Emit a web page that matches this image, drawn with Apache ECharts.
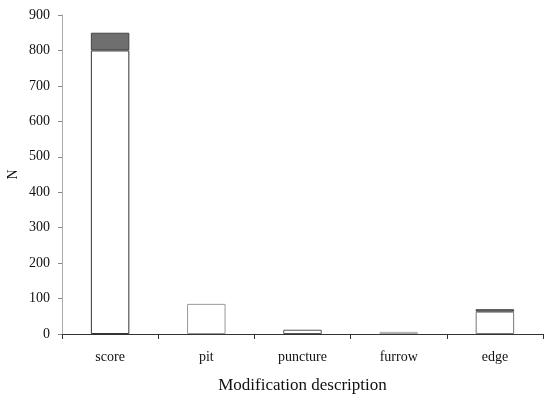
<!DOCTYPE html>
<html><head><meta charset="utf-8">
<script src="https://cdn.jsdelivr.net/npm/echarts@6/dist/echarts.min.js"></script>
<style>html,body{margin:0;padding:0;background:#fff}#c{width:544px;height:398px}</style>
</head><body><div id="c"></div>
<script>
const categories = ['score', 'pit', 'puncture', 'furrow', 'edge'];
const whiteValues = [800, 85, 12, 6, 63];
const greyValues = [50, null, null, null, 7];
const yTicks = [0, 100, 200, 300, 400, 500, 600, 700, 800, 900];

const whiteBorders = ['#333', '#999', '#555', '#aaa', '#777'];

const chart = echarts.init(document.getElementById('c'));
const font = 'Liberation Serif';
chart.setOption({
  animation: false,
  grid: { left: 62, right: 1, top: 15, bottom: 64, containLabel: false, outerBoundsMode: 'none' },
  xAxis: {
    type: 'category', data: categories,
    name: 'Modification description', nameLocation: 'middle', nameGap: 43,
    nameMoveOverlap: false,
    nameTextStyle: { fontFamily: font, fontSize: 17, color: '#111' },
    axisLine: { lineStyle: { color: '#333', width: 1 } },
    axisTick: { show: true, alignWithLabel: false, length: 5, lineStyle: { color: '#333' } },
    axisLabel: { fontFamily: font, fontSize: 14, color: '#111', margin: 16 }
  },
  yAxis: {
    type: 'value', min: yTicks[0], max: yTicks[yTicks.length - 1], interval: 100,
    name: 'N', nameLocation: 'middle', nameGap: 42, nameRotate: 90,
    nameMoveOverlap: false,
    nameTextStyle: { fontFamily: font, fontSize: 14, color: '#111' },
    axisLine: { show: true, lineStyle: { color: '#aaa' } },
    axisTick: { show: true, length: 4, lineStyle: { color: '#888' } },
    axisLabel: { fontFamily: font, fontSize: 14, color: '#111', margin: 12 },
    splitLine: { show: false }
  },
  series: [
    { type: 'bar', stack: 's', barWidth: '40%',
      data: whiteValues.map((v, i) => ({ value: v, itemStyle: { borderColor: whiteBorders[i] } })),
      itemStyle: { color: '#fff', borderColor: '#555', borderWidth: 1 } },
    { type: 'bar', stack: 's', data: greyValues, barWidth: '40%',
      itemStyle: { color: '#6f6f6f', borderColor: '#444', borderWidth: 1 } }
  ]
});
</script></body></html>
